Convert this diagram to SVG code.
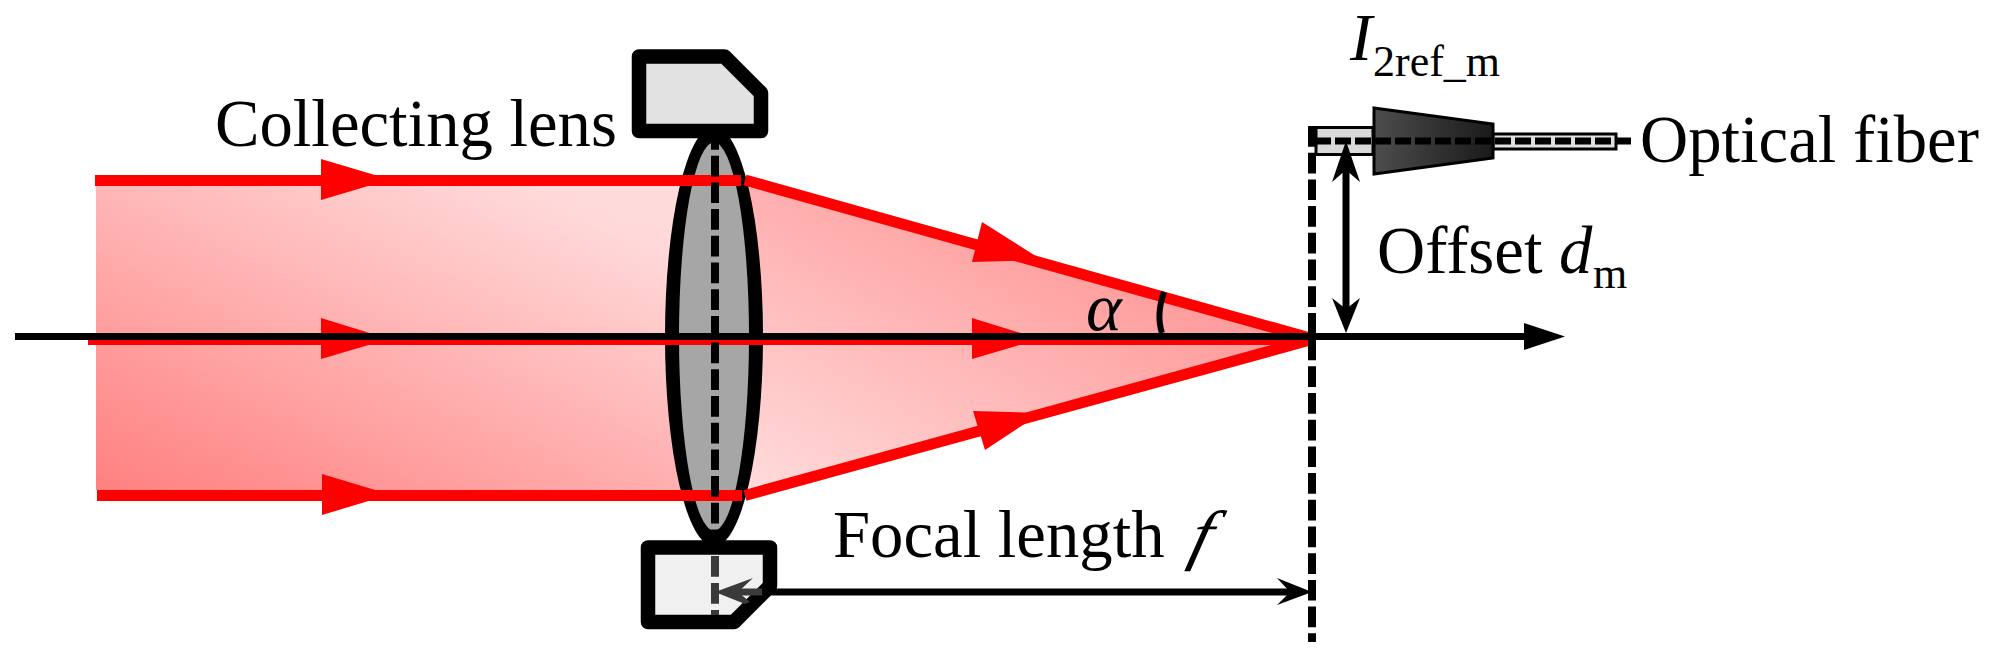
<svg xmlns="http://www.w3.org/2000/svg" width="1990" height="657" viewBox="0 0 1990 657">
<style>
text{font-family:"Liberation Serif","Times New Roman",serif;fill:#000;font-size:66.7px}
.i{font-style:italic}
.sub{font-size:44px}
.red{stroke:#f00;stroke-width:11;fill:none}
.rh{fill:#f00}
.blk{stroke:#000;stroke-width:7;fill:none}
.ah{fill:#000}
.dash{stroke:#000;stroke-width:8;fill:none;stroke-dasharray:20.7 6}
.frame{stroke:#000;stroke-width:14.5;stroke-linejoin:round}
</style>
<defs>
<linearGradient id="gl" gradientUnits="userSpaceOnUse" x1="96" y1="490" x2="281" y2="72"><stop offset="0" stop-color="#ff8080"/><stop offset="1" stop-color="#ffdada"/></linearGradient>
<linearGradient id="gr" gradientUnits="userSpaceOnUse" x1="745" y1="495" x2="941" y2="141"><stop offset="0" stop-color="#ffdcdc"/><stop offset="1" stop-color="#ff9999"/></linearGradient>
<linearGradient id="gt" x1="0" y1="0" x2="1" y2="0"><stop offset="0" stop-color="#4d4d4d"/><stop offset="1" stop-color="#1a1a1a"/></linearGradient>
</defs>
<g id="beam">
<polygon points="96,186 680,186 680,490 96,490" fill="url(#gl)"/>
<polygon points="745,180 1310,338 745,495" fill="url(#gr)"/>
</g>
<g id="lens">
<ellipse cx="714" cy="336.5" rx="49" ry="210" fill="#000"/>
<ellipse cx="714" cy="336.5" rx="35" ry="194" fill="#a6a6a6"/>
</g>
<g id="lens-mount-top">
<path class="frame" fill="#e2e2e2" d="M639,56.5H724.5L761,93V131H639Z"/>
</g>
<g id="lens-mount-bottom">
<path class="frame" fill="#f0f0f0" d="M648,547.5H770V586L734,622H648Z"/>
</g>
<g id="fiber">
<rect x="1316" y="127.5" width="57" height="27" fill="#d9d9d9" stroke="#000" stroke-width="3"/>
<rect x="1493" y="134" width="123" height="15" fill="#e0e0e0" stroke="#000" stroke-width="3"/>
<polygon points="1374,108 1493,124 1493,158 1374,174" fill="url(#gt)" stroke="#000" stroke-width="3"/>
</g>
<g id="connectors">
<path class="red" d="M95,180.5H741M88,339.5H1308M97,495.5H742M745,180L1310,338M745,495.5L1310,340"/>
<polygon class="rh" points="321,159 321,200 390,179.5"/>
<polygon class="rh" points="321,318 321,359 389,339"/>
<polygon class="rh" points="322,474 322,515 390,494.5"/>
<polygon class="rh" points="972,318 972,359 1040,339"/>
<polygon class="rh" points="982,222 972,262 1042,260"/>
<polygon class="rh" points="973,411 985,450 1041,413"/>
<path d="M715,129V540" class="dash"/>
<path d="M715,556V576.7M715,583V603.7M715,610V615" stroke="#3a3a3a" stroke-width="8" fill="none"/>
<path class="blk" d="M15,336.5H1530"/>
<polygon class="ah" points="1524,323 1565,336.5 1524,350"/>
<path d="M1312,126V642" class="dash"/>
<path d="M1315,141H1631" stroke="#000" stroke-width="7" stroke-dasharray="16 4" fill="none"/>
<path class="blk" d="M1346,170V312"/>
<polygon class="ah" points="1346,141 1360,182 1346,170 1332,182"/>
<polygon class="ah" points="1346,333 1360,298 1346,309 1332,298"/>
<path class="blk" d="M770,592H1295"/>
<polygon class="ah" points="1312,592 1277,605 1290,592 1277,578"/>
<polygon fill="#3a3a3a" points="715,592 753,578 738,592 750,602 745,604"/>
<path d="M738,592H762" stroke="#3a3a3a" stroke-width="7"/>
<path d="M1164,292Q1156,315 1162,333" stroke="#000" stroke-width="6" fill="none"/>
</g>
<g id="labels">
<text x="215" y="146">Collecting lens</text>
<text class="i" x="1350" y="60">I</text>
<text class="sub" x="1373" y="76">2ref_m</text>
<text x="1640" y="162">Optical fiber</text>
<text x="1377" y="273">Offset</text>
<text class="i" x="1559" y="273">d</text>
<text class="sub" x="1593" y="288">m</text>
<text class="i" x="1086" y="330" style="font-size:68px">α</text>
<text x="833" y="557">Focal length</text>
<text class="i" transform="translate(1187,557) skewX(-14) scale(1.1,1)">f</text>
</g>
</svg>
